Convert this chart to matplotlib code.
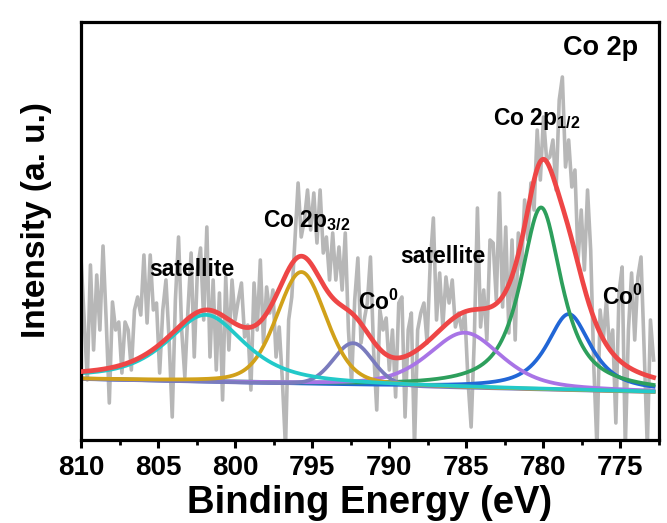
import numpy as np
import matplotlib
matplotlib.use("Agg")
import matplotlib.pyplot as plt

plt.rcParams['font.family'] = ['Liberation Sans', 'DejaVu Sans']
plt.rcParams['font.weight'] = 'bold'
plt.rcParams['mathtext.fontset'] = 'custom'
plt.rcParams['mathtext.rm'] = 'Liberation Sans:bold'
plt.rcParams['mathtext.bf'] = 'Liberation Sans:bold'
plt.rcParams['mathtext.it'] = 'Liberation Sans:bold'

# ---- data (intensity in arbitrary units) ----
be_start, be_end = 810.0, 772.85
raw_intensity = [
    182, 120, 60, 175, 90, 165, 110, 194, 120, 37, 138, 110, 118, 67, 118, 110, 70, 130, 143, 125, 185, 117, 185, 130, 137, 67,
    130, 160, 100, 23, 140, 203, 110, 63, 130, 187, 83, 170, 192, 120, 213, 83, 160, 70, 147, 40, 163, 90, 160, 120, 140, 157, 103,
    115, 50, 157, 110, 180, 97, 153, 127, 150, 83, 113, 60, -8, 120, 143, 200, 257, 203, 220, 250, 210, 247, 197, 250, 187, 203, 160,
    207, 160, 193, 150, 207, 110, 57, 140, 182, 97, 120, 137, 183, 90, 30, 130, 110, 122, 70, 110, 43, 137, 143, 23, 110,
    127, -8, 110, 127, 137, 97, 177, 222, 120, 167, 113, 163, 137, 160, 113, 127, 110, 127, 60, 13, 100, 232, 113, 150, 100, 200,
    197, 140, 247, 133, 213, 107, 200, 100, 207, 170, 240, 200, 257, 230, 310, 260, 323, 280, 283, 300, 250, 340, 363, 273, 300, 253,
    270, 180, 230, 170, 250, 190, 73, -8, 130, 100, 140, 90, 110, 17, 147, 173, -8, 110, 167, 100, 163, 183, 90, -8, 120, 80,
]
raw_energy = np.linspace(be_start, be_end, len(raw_intensity))

background_ends = [61, 48]  # linear background at 810 eV and at 772.85 eV

peak_names = ['satellite', 'Co 2p3/2', 'Co0', 'satellite', 'Co 2p1/2', 'Co0']
peak_centers = [801.9, 795.7, 792.35, 785.1, 780.15, 778.35]
peak_heights = [67, 112, 42, 55, 182, 76]
peak_fwhm = [6.0, 3.8, 3.0, 5.6, 3.2, 3.4]
peak_lorentz_frac = [0.7, 0.3, 0.1, 0.5, 0.85, 0.8]
peak_colors = ['#22c9c9', '#d1a11a', '#7a7bbd', '#a874e6', '#2d9f5c', '#2166d6']
draw_order = [5, 4, 3, 2, 1, 0]

# ---- fit curves ----
E = np.linspace(be_start, be_end, 800)
bg = np.interp(E, [be_end, be_start], background_ends[::-1])


def pseudo_voigt(x, c, h, w, eta):
    g = np.exp(-4 * np.log(2) * (x - c) ** 2 / w ** 2)
    l = 1.0 / (1.0 + 4 * (x - c) ** 2 / w ** 2)
    return h * (eta * l + (1 - eta) * g)


comps = [pseudo_voigt(E, c, h, w, eta) for c, h, w, eta in
         zip(peak_centers, peak_heights, peak_fwhm, peak_lorentz_frac)]
envelope = bg + np.sum(comps, axis=0)

fig = plt.figure(figsize=(6.67, 5.23), dpi=100)
ax = fig.add_axes([81 / 667, 83 / 523, 578 / 667, 418 / 523])

ax.plot(raw_energy, raw_intensity, color='#b7b7b7', lw=2.6, zorder=1)
for i in draw_order:
    ax.plot(E, bg + comps[i], color=peak_colors[i], lw=2.7, zorder=2)
ax.plot(E, envelope, color='#ee4646', lw=3.4, zorder=3)

ax.set_xlim(be_start, be_end)
ax.set_ylim(0, 418)
ax.set_xticks([810, 805, 800, 795, 790, 785, 780, 775])
ax.set_xticks(np.arange(807.5, 772, -5), minor=True)
ax.set_yticks([])
ax.tick_params(axis='x', which='major', direction='out', length=6, width=2.2,
               labelsize=20, pad=5)
ax.tick_params(axis='x', which='minor', direction='out', length=3.5, width=2.0)
for lab in ax.get_xticklabels():
    lab.set_fontweight('bold')
for s in ax.spines.values():
    s.set_linewidth(2.3)

ax.set_xlabel('Binding Energy (eV)', fontsize=27.5, fontweight='bold', labelpad=2.5)
ax.set_ylabel('Intensity (a. u.)', fontsize=24, fontweight='bold')
ax.yaxis.set_label_coords(-0.05, 0.525)

fs = 16.5
ax.text(805.56, 164, 'satellite', fontsize=fs, fontweight='bold', va='baseline')
ax.text(798.17, 213, r'Co 2p$_{\mathrm{3/2}}$', fontsize=fs, va='baseline')
ax.text(792.06, 130, r'Co$^{\mathrm{0}}$', fontsize=fs, va='baseline')
ax.text(789.3, 177, 'satellite', fontsize=fs, fontweight='bold', va='baseline')
ax.text(783.25, 315, r'Co 2p$_{\mathrm{1/2}}$', fontsize=fs, va='baseline')
ax.text(776.17, 135, r'Co$^{\mathrm{0}}$', fontsize=fs, va='baseline')
ax.text(778.75, 385, 'Co 2p', fontsize=19.5, fontweight='bold', va='baseline')

fig.savefig('out.png', dpi=100)
